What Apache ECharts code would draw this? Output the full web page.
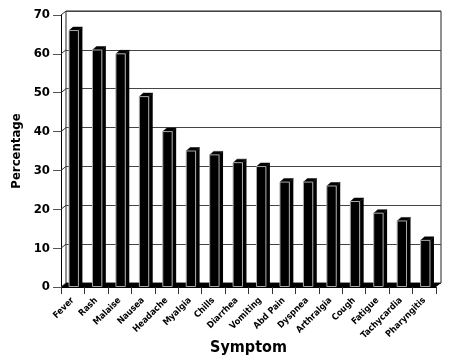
<!DOCTYPE html>
<html><head><meta charset="utf-8">
<script src="https://cdn.jsdelivr.net/npm/echarts@6/dist/echarts.min.js"></script>
<style>html,body{margin:0;padding:0;background:#fff}#c{width:449px;height:359px}</style>
</head><body><div id="c"></div>
<script>
const categories = ['Fever','Rash','Malaise','Nausea','Headache','Myalgia','Chills','Diarrhea','Vomiting','Abd Pain','Dyspnea','Arthralgia','Cough','Fatigue','Tachycardia','Pharyngitis'];
const percentages = [66, 61, 60, 49, 40, 35, 34, 32, 31, 27, 27, 26, 22, 19, 17, 12];
const yTicks = [0, 10, 20, 30, 40, 50, 60, 70];

const FONT = '"DejaVu Sans Condensed", "Liberation Sans Narrow", "Liberation Sans", sans-serif';
const WALL_DX = 5, WALL_DY = -4;   // depth of the chart box
const BAR_DX = 4, BAR_DY = -3.5;   // depth of each bar

const chart = echarts.init(document.getElementById('c'), null, {renderer: 'canvas'});

function bandEdges(api) {
  const first = api.coord([0, 0]);
  const last = api.coord([categories.length - 1, 0]);
  const bw = api.size([1, 0])[0];
  return {x0: first[0] - bw / 2, x1: last[0] + bw / 2, y: first[1], bw: bw};
}

chart.setOption({
  animation: false,
  grid: [
    {left: 61, top: 15, width: 375, height: 272, show: false, containLabel: false, outerBoundsMode: 'none'},
    {left: 66, top: 11, width: 375, height: 272, show: true, borderColor: '#222', borderWidth: 1, backgroundColor: 'transparent', containLabel: false, outerBoundsMode: 'none'}
  ],
  xAxis: [
    {
      type: 'category', gridIndex: 0, data: categories,
      axisLine: {show: true, lineStyle: {color: '#000', width: 1}},
      axisTick: {show: true, length: 7, lineStyle: {color: '#333'}},
      axisLabel: {rotate: 45, fontFamily: FONT, fontWeight: 'bold', fontSize: 9, color: '#000', margin: 12, interval: 0},
      name: 'Symptom', nameLocation: 'middle', nameGap: 53, nameMoveOverlap: false,
      nameTextStyle: {fontFamily: FONT, fontWeight: 'bold', fontSize: 16, color: '#000'}
    },
    {
      type: 'category', gridIndex: 1, data: categories, show: false
    }
  ],
  yAxis: [
    {
      type: 'value', gridIndex: 0, min: 0, max: 70, interval: 10,
      axisLine: {show: true, lineStyle: {color: '#000', width: 1}},
      axisTick: {show: true, length: 8, lineStyle: {color: '#555'}},
      axisLabel: {fontFamily: FONT, fontWeight: 'bold', fontSize: 13, color: '#000', margin: 11},
      splitLine: {show: false},
      name: 'Percentage', nameLocation: 'middle', nameGap: 38, nameMoveOverlap: false,
      nameTextStyle: {fontFamily: FONT, fontWeight: 'bold', fontSize: 13, color: '#000'}
    },
    {
      type: 'value', gridIndex: 1, min: 0, max: 70, interval: 10,
      axisLine: {show: false}, axisTick: {show: false}, axisLabel: {show: false},
      splitLine: {show: true, lineStyle: {color: '#444', width: 1}}
    }
  ],
  series: [
    {
      type: 'custom', xAxisIndex: 0, yAxisIndex: 0, z: 3,
      data: [0],
      renderItem: function (params, api) {
        const e = bandEdges(api);
        const children = [{
          type: 'polygon',
          shape: {points: [[e.x0, e.y], [e.x1, e.y], [e.x1 + WALL_DX, e.y + WALL_DY], [e.x0 + WALL_DX, e.y + WALL_DY]]},
          style: {fill: '#000'}
        }];
        yTicks.forEach(function (v) {
          const p = api.coord([0, v]);
          children.push({
            type: 'line',
            shape: {x1: e.x0, y1: p[1], x2: e.x0 + WALL_DX, y2: p[1] + WALL_DY},
            style: {stroke: '#333', lineWidth: 1}
          });
        });
        return {type: 'group', children: children};
      }
    },
    {
      type: 'custom', xAxisIndex: 0, yAxisIndex: 0, z: 5,
      data: percentages.map(function (v, i) { return [i, v]; }),
      encode: {x: 0, y: 1},
      renderItem: function (params, api) {
        const top = api.coord([api.value(0), api.value(1)]);
        const base = api.coord([api.value(0), 0]);
        const bw = api.size([1, 0])[0];
        const w = bw * 0.4;
        const xl = top[0] - w / 2 + 1, xr = xl + w;
        const yt = top[1], yb = base[1];
        return {
          type: 'group',
          children: [
            {type: 'polygon', shape: {points: [[xr, yt], [xr + BAR_DX, yt + BAR_DY], [xr + BAR_DX, yb + BAR_DY], [xr, yb]]}, style: {fill: '#000'}},
            {type: 'polygon', shape: {points: [[xl, yt], [xl + BAR_DX, yt + BAR_DY], [xr + BAR_DX, yt + BAR_DY], [xr, yt]]}, style: {fill: '#000', stroke: '#000', lineWidth: 0.5}},
            {type: 'rect', shape: {x: xl, y: yt, width: w, height: yb - yt - 0.5}, style: {fill: '#000', stroke: '#aaa', lineWidth: 1}}
          ]
        };
      }
    }
  ]
});
</script></body></html>
